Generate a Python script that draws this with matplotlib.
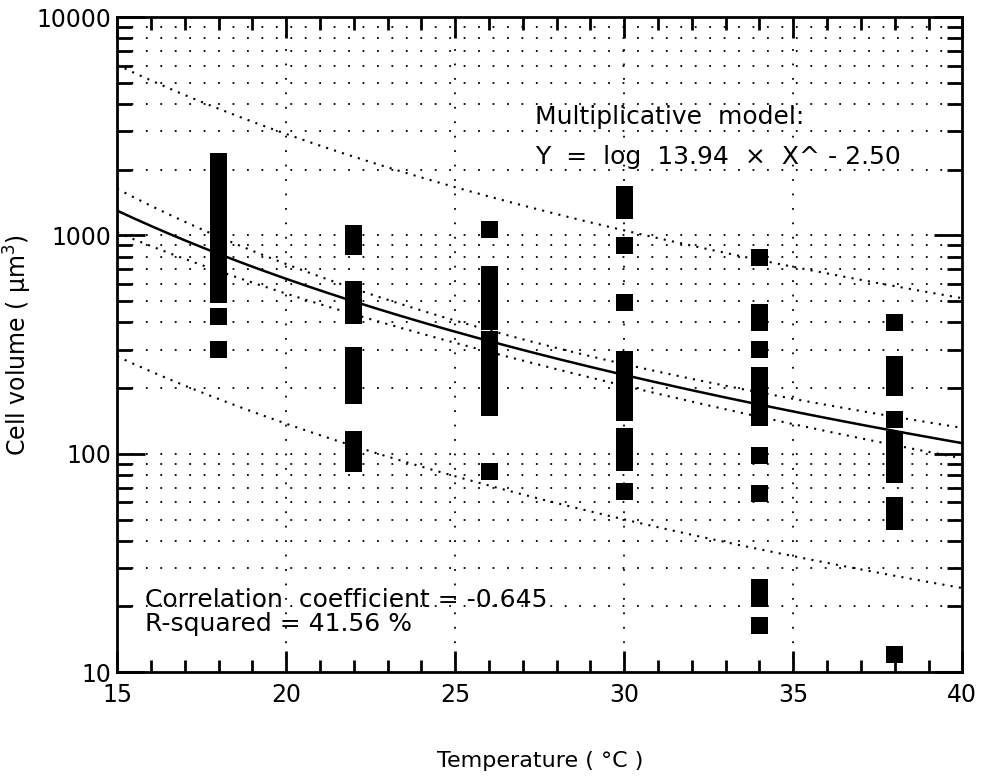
import numpy as np
import matplotlib
matplotlib.use("Agg")
import matplotlib.pyplot as plt
from matplotlib.ticker import FixedLocator, LogLocator, NullFormatter, FixedFormatter

# cell volume readings (um^3) per growth temperature
temp_18 = [2190, 1900, 1650, 1430, 1240, 1080, 940, 815, 710, 615, 535, 425, 300]
temp_22 = [1020, 890, 565, 497, 430, 282, 245, 209, 185, 116, 102, 90]
temp_26 = [1066, 662, 583, 514, 453, 403, 333, 282, 235, 207, 183, 163, 83]
temp_30 = [1540, 1300, 900, 493, 270, 238, 209, 185, 154, 120, 108, 91, 67]
temp_34 = [793, 443, 399, 300, 228, 201, 177, 156, 146, 98, 66, 24.5, 21.8, 16.3]
temp_38 = [399, 256, 228, 201, 143, 116, 102, 91, 80, 58, 49, 12.1]
temperatures = [18, 22, 26, 30, 34, 38]
volumes = [temp_18, temp_22, temp_26, temp_30, temp_34, temp_38]

# fitted model  ln(Y) = 13.94 - 2.50 ln(X)
fit_a = 13.94
fit_b = -2.50
# band parameters (log10 scale)
band_t = 2.0
band_s = 0.33
n_obs = 185
mean_ln_t = 3.33
sxx_ln_t = 22.0

x_ticks = [15, 20, 25, 30, 35, 40]
y_ticks = [10, 100, 1000, 10000]

fig = plt.figure(figsize=(9.84, 7.78), dpi=100)
ax = fig.add_axes([0.119, 0.136, 0.859, 0.842])
ax.set_yscale('log')
ax.set_xlim(15, 40)
ax.set_ylim(10, 10000)

# dotted grid
for yv in [m * 10 ** e for e in range(1, 4) for m in range(2, 10)] + [100, 1000]:
    ax.axhline(yv, color='black', lw=1.3, ls=(0, (1, 7)), zorder=1)
for xv in x_ticks[1:-1]:
    ax.axvline(xv, color='black', lw=1.3, ls=(0, (1, 7)), zorder=1)

# data
for t, vals in zip(temperatures, volumes):
    ax.scatter([t] * len(vals), vals, marker='s', s=150, color='black',
               edgecolors='none', zorder=3)

# fit and bands
xs = np.linspace(15, 40, 300)
lx = np.log(xs)
fit = np.exp(fit_a + fit_b * lx)
d2 = (lx - mean_ln_t) ** 2 / sxx_ln_t
ci = band_t * band_s * np.sqrt(1.0 / n_obs + d2)
pi = band_t * band_s * np.sqrt(1.0 + 1.0 / n_obs + d2)
ax.plot(xs, fit, color='black', lw=1.8, zorder=4)
dot = dict(color='black', lw=1.5, ls=(0, (1, 3)), zorder=4)
ax.plot(xs, fit * 10 ** ci, **dot)
ax.plot(xs, fit / 10 ** ci, **dot)
ax.plot(xs, fit * 10 ** pi, **dot)
ax.plot(xs, fit / 10 ** pi, **dot)

# ticks
ax.xaxis.set_major_locator(FixedLocator(x_ticks))
ax.xaxis.set_minor_locator(FixedLocator(range(16, 40)))
ax.yaxis.set_major_locator(FixedLocator(y_ticks))
ax.yaxis.set_major_formatter(FixedFormatter([str(v) for v in y_ticks]))
ax.yaxis.set_minor_locator(LogLocator(base=10, subs=range(2, 10)))
ax.yaxis.set_minor_formatter(NullFormatter())
ax.tick_params(which='both', direction='in', top=True, right=True, width=2)
ax.tick_params(axis='x', which='major', length=15, labelsize=17, pad=8)
ax.tick_params(axis='x', which='minor', length=9)
ax.tick_params(axis='y', which='major', length=20, labelsize=17, pad=4)
ax.tick_params(axis='y', which='minor', length=11)
for sp in ax.spines.values():
    sp.set_linewidth(2)

ax.set_xlabel('Temperature ( °C )', fontsize=16)
ax.set_ylabel('Cell volume ( μm$^3$)', fontsize=17)
ax.xaxis.set_label_coords(0.5, -0.12)
ax.yaxis.set_label_coords(-0.098, 0.5)

txt = dict(transform=ax.transAxes, fontsize=18, ha='left', va='center')
ax.text(0.495, 0.847, 'Multiplicative  model:', **txt)
ax.text(0.495, 0.786, 'Y  =  log  13.94  ×  X^ - 2.50', **txt)
ax.text(0.033, 0.11, 'Correlation  coefficient = -0.645', **txt)
ax.text(0.033, 0.074, 'R-squared = 41.56 %', **txt)

fig.savefig('out.png', dpi=100)
